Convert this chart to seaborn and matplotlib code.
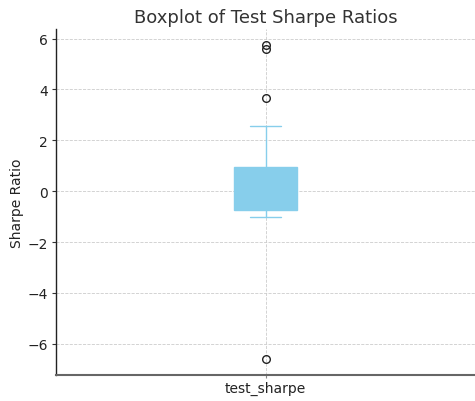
import numpy as np
import pandas as pd
import matplotlib
matplotlib.use("Agg")
import matplotlib.pyplot as plt
import seaborn as sns

# Test Sharpe ratios
test_sharpe = [-6.6, -1.0, -0.9, -0.85, -0.8, -0.72, -0.5, -0.3, -0.1, 0.0, 0.1,
               0.3, 0.5, 0.7, 0.85, 0.96, 1.5, 2.56, 3.65, 5.6, 5.75]
column_name = "test_sharpe"

df = pd.DataFrame({column_name: test_sharpe})

sns.set_style("white")
plt.rcParams["font.family"] = ["DejaVu Sans"]

fig = plt.figure(figsize=(4.75, 4.02), dpi=100)
ax = fig.add_axes([0.118, 0.065, 0.882, 0.86])

box_c = "#87CEEB"
sns.boxplot(data=df, ax=ax, width=0.15, color=box_c, saturation=1,
            linecolor=box_c, linewidth=1.0,
            flierprops=dict(marker="o", markerfacecolor="none",
                            markeredgecolor="#222222", markersize=5.5,
                            markeredgewidth=1.0))

ax.set_xlim(-0.5, 0.5)
ax.set_title("Boxplot of Test Sharpe Ratios", fontsize=13, color="#333333", pad=5)
ax.set_ylabel("Sharpe Ratio", fontsize=10, color="#222222", labelpad=2)
ax.set_xlabel("")
ax.grid(True, linestyle="--", color="#cccccc", linewidth=0.6)
ax.set_axisbelow(True)
for s in ["top", "right"]:
    ax.spines[s].set_visible(False)
ax.spines["left"].set_color("#222222")
ax.spines["left"].set_linewidth(1.0)
ax.spines["bottom"].set_color("#666666")
ax.spines["bottom"].set_linewidth(1.5)
ax.tick_params(axis="y", left=True, length=3, width=0.8, color="#333333",
               labelsize=10, labelcolor="#222222", pad=3)
ax.tick_params(axis="x", bottom=True, length=2.5, width=0.8, color="#888888",
               labelsize=10, labelcolor="#222222", pad=1.5)
ax.set_yticks([-6, -4, -2, 0, 2, 4, 6])
ax.set_yticklabels(["\u22126", "\u22124", "\u22122", "0", "2", "4", "6"])

fig.savefig("out.png", dpi=100)
